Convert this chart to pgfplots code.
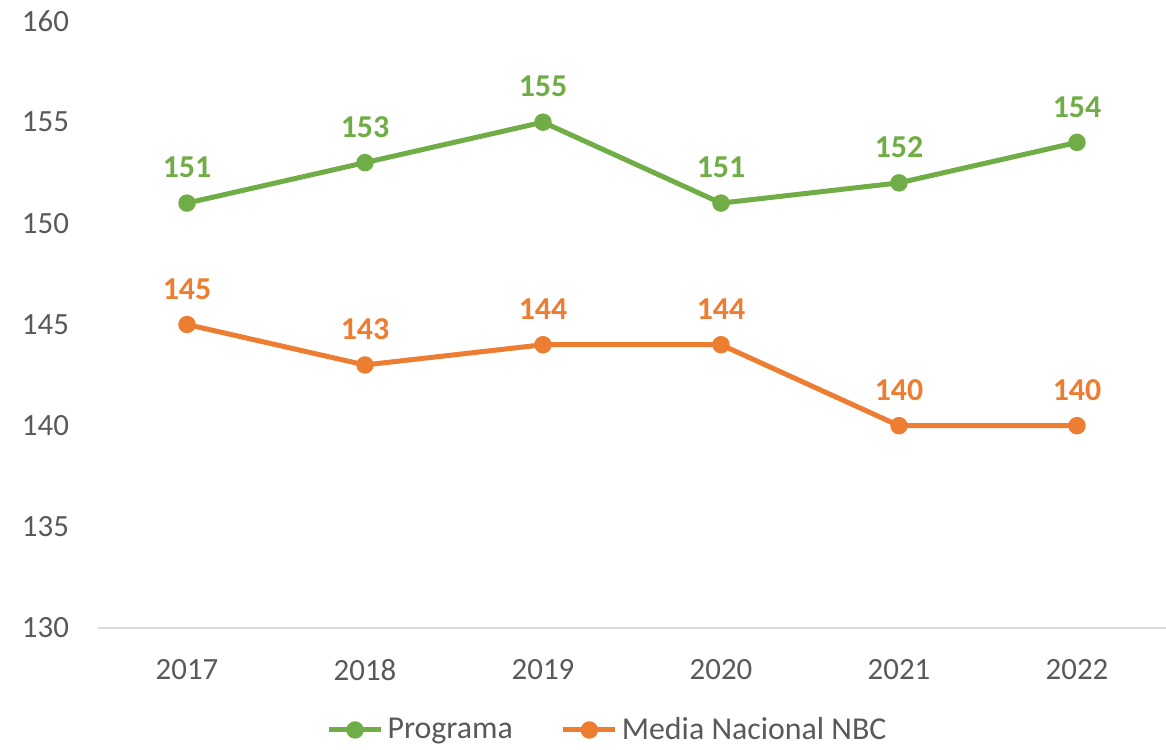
\documentclass[border=0pt]{standalone}
\usepackage{pgfplots}
\pgfplotsset{compat=1.18}
\usepackage{fontspec}
\setmainfont{Carlito}
\definecolor{cgreen}{HTML}{70AD47}
\definecolor{corange}{HTML}{ED7D31}
\definecolor{ctext}{HTML}{595959}
\definecolor{caxis}{HTML}{D9D9D9}
\begin{document}
\begin{tikzpicture}
\path[use as bounding box] (-49bp,-61bp) rectangle (534bp,314bp);
\begin{axis}[
  at={(0,0)}, anchor=south west,
  scale only axis, width=534bp, height=303.5bp,
  xmin=-0.5, xmax=5.5, ymin=130, ymax=160,
  xtick={0,1,2,3,4,5},
  xticklabels={2017,2018,2019,2020,2021,2022},
  ytick={130,135,140,145,150,155,160},
  axis x line=bottom, axis y line=left,
  y axis line style={draw=none},
  x axis line style={draw=caxis, line width=0.8bp, -},
  major tick length=0pt,
  tick label style={font=\fontsize{15.5}{18}\selectfont, text=ctext},
  /pgf/number format/assume math mode=true,
  yticklabel style={xshift=-11bp},
  xticklabel style={yshift=-12bp},
  clip=false,
  legend columns=2,
  legend style={draw=none, fill=none, at={(0.478,-0.168)}, anchor=center,
    font=\fontsize{16}{19}\selectfont, text=ctext,
    /tikz/every even column/.append style={column sep=22bp}},
  legend image code/.code={\draw[mark repeat=2,mark phase=2,#1] plot coordinates {(0bp,0bp) (13bp,0bp) (26bp,0bp)};},
  nodes near coords,
  every node near coord/.append style={font=\fontsize{16}{19}\selectfont\bfseries, anchor=south, yshift=8bp},
]
\addplot[color=cgreen, line width=2.5bp, mark=*, mark size=3.1bp, mark options={fill=cgreen, draw=none}]
  coordinates {(0,151) (1,153) (2,155) (3,151) (4,152) (5,154)};
\addlegendentry{Programa}
\addplot[color=corange, line width=2.5bp, mark=*, mark size=3.1bp, mark options={fill=corange, draw=none}]
  coordinates {(0,145) (1,143) (2,144) (3,144) (4,140) (5,140)};
\addlegendentry{Media Nacional NBC}
\end{axis}
\end{tikzpicture}
\end{document}
